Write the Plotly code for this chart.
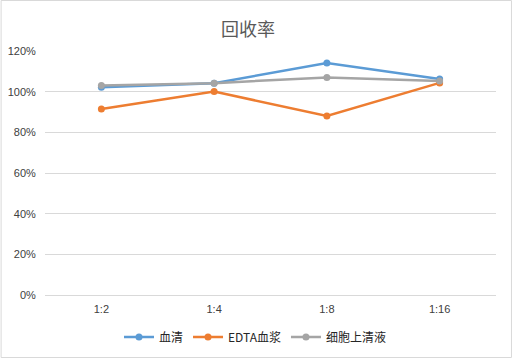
import plotly.graph_objects as go

categories = ["1:2", "1:4", "1:8", "1:16"]
serum = [1.022, 1.042, 1.141, 1.062]
edta_plasma = [0.915, 1.001, 0.880, 1.043]
cell_supernatant = [1.030, 1.042, 1.070, 1.052]
series_names = ["血清", "EDTA血浆", "细胞上清液"]
colors = ["#5B9BD5", "#ED7D31", "#A5A5A5"]

font_family = "Noto Sans CJK SC, Noto Sans, sans-serif"
tick_family = "Liberation Sans, Noto Sans, sans-serif"

fig = go.Figure()
for name, vals, c in zip(series_names, [serum, edta_plasma, cell_supernatant], colors):
    fig.add_trace(go.Scatter(
        x=categories, y=vals, name=name, mode="lines+markers",
        line=dict(color=c, width=2.5), marker=dict(color=c, size=7),
    ))

fig.update_layout(
    width=513, height=358,
    paper_bgcolor="white", plot_bgcolor="white",
    margin=dict(l=44.5, r=16.5, t=51, b=63, autoexpand=False),
    title=dict(text="回收率", x=248 / 513, xanchor="center", xref="container",
               y=1 - 30 / 358, yanchor="middle", yref="container",
               font=dict(family=font_family, size=18, color="#595959")),
    font=dict(family=font_family, size=10, color="#404040"),
    showlegend=True,
    legend=dict(orientation="h", x=255 / 513, xanchor="center", xref="container",
                y=21 / 358, yanchor="middle", yref="container",
                font=dict(family=font_family, size=12, color="#262626"),
                itemwidth=30, tracegroupgap=0),
    xaxis=dict(type="category", range=[-0.5, 3.5], showgrid=False, showline=True,
               linecolor="#D9D9D9", linewidth=1, ticks="outside", ticklen=4,
               tickcolor="rgba(0,0,0,0)",
               tickfont=dict(family=tick_family, size=11, color="#404040")),
    yaxis=dict(range=[0, 1.2], dtick=0.2, tickformat=".0%", showgrid=True,
               gridcolor="#D9D9D9", gridwidth=1, zeroline=False, showline=False,
               ticks="outside", ticklen=6, tickcolor="rgba(0,0,0,0)",
               tickfont=dict(family=tick_family, size=11, color="#404040")),
    shapes=[dict(type="rect", xref="paper", yref="paper",
                 x0=-44 / 452, x1=1 + 15.5 / 452, y0=-62.5 / 244, y1=1 + 50.5 / 244,
                 line=dict(color="#D9D9D9", width=1))],
)

fig.write_html("out.html", config={"displayModeBar": False},
               post_script="document.body.style.margin='0';document.body.style.overflow='hidden';")
